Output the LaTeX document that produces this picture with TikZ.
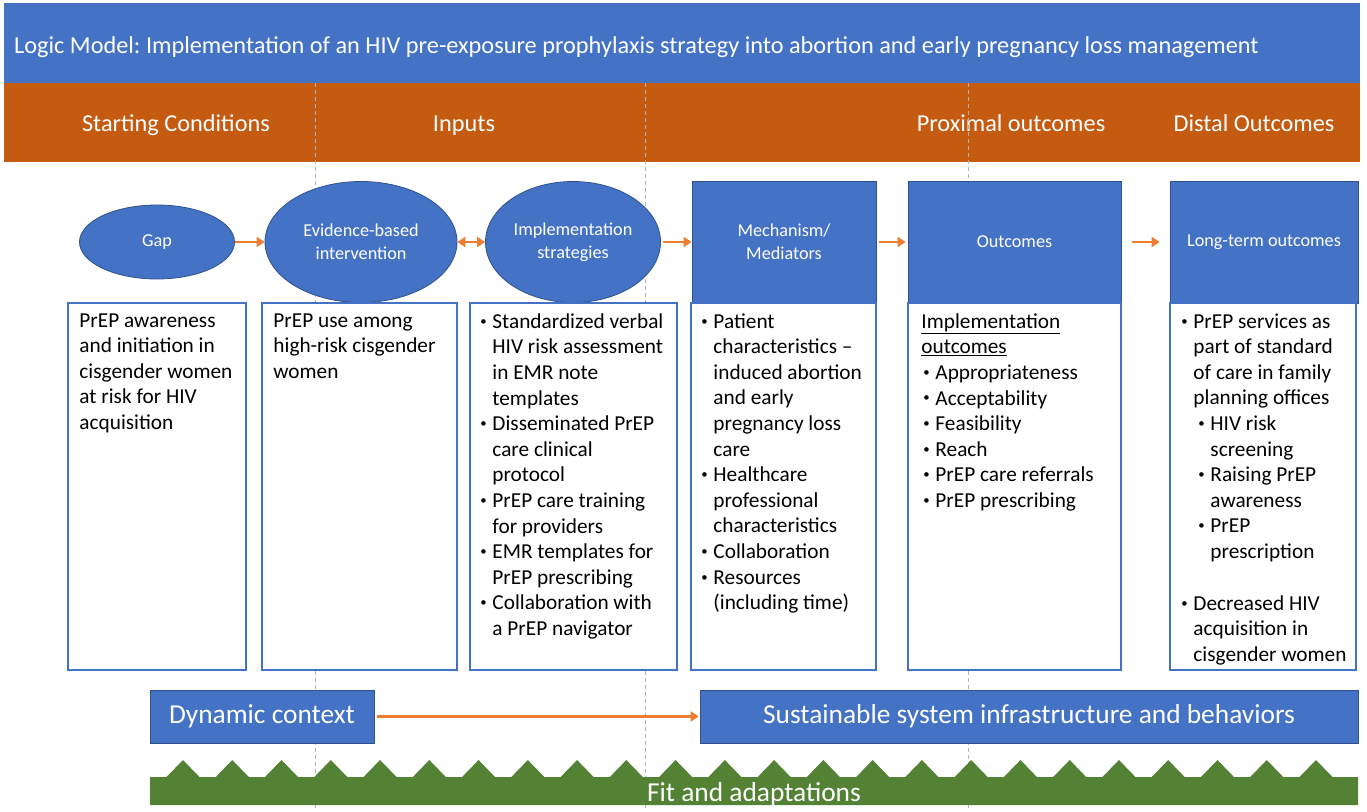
\documentclass[tikz,border=0pt]{standalone}
\usepackage{fontspec}
\setmainfont{Carlito}
\usetikzlibrary{arrows.meta,shapes.geometric}
\definecolor{hdrblue}{HTML}{4472C4}
\definecolor{hdrorange}{HTML}{C55A11}
\definecolor{fitgreen}{HTML}{548235}
\definecolor{arrorange}{HTML}{ED7D31}
\definecolor{edgeblue}{HTML}{2F528F}
\frenchspacing
\newcommand{\bul}[1]{\makebox[12pt][l]{\raisebox{0.3ex}{\scalebox{0.6}{\textbullet}}}#1}
\newcommand{\cnt}[1]{\hspace*{12pt}#1}
\begin{document}
\begin{tikzpicture}[x=1pt,y=-1pt,
  hdr/.style={text=white, inner sep=0, anchor=base, font=\fontsize{24.3}{28}\selectfont},
  oval/.style={ellipse, fill=hdrblue, draw=edgeblue, line width=0.8pt, text=white,
    inner sep=0, align=center, font=\fontsize{18.2}{23}\selectfont},
  bluebox/.style={rectangle, fill=hdrblue, draw=edgeblue, line width=0.8pt, text=white,
    inner sep=0, align=center, font=\fontsize{18.2}{23}\selectfont},
  widebox/.style={rectangle, fill=hdrblue, draw=edgeblue, line width=0.8pt, text=white,
    inner sep=0, font=\fontsize{27.4}{30}\selectfont},
  txtbox/.style={rectangle, draw=hdrblue, line width=1.5pt, fill=white, inner sep=0},
  body/.style={inner sep=0, anchor=north west, align=left,
    font=\fontsize{21.3}{25.6}\selectfont},
  flow/.style={draw=arrorange, line width=2.6pt, -{Triangle[length=8pt,width=10pt]}},
  flow2/.style={draw=arrorange, line width=2.6pt, {Triangle[length=8pt,width=10pt]}-{Triangle[length=8pt,width=10pt]}},
  guide/.style={draw=gray!60, line width=0.7pt, dash pattern=on 4pt off 3pt}]
\useasboundingbox (0,0) rectangle (1367,811);

% title and column header bands
\fill[hdrblue] (4,3) rectangle (1360,83);
\fill[hdrorange] (4,83) rectangle (1360,162);
\node[hdr, anchor=base west] (title) at (14,53)
  {Logic Model: Implementation of an HIV pre-exposure prophylaxis strategy into abortion and early pregnancy loss management};
\node[hdr] (hsc) at (176,131) {Starting Conditions};
\node[hdr] (hin) at (464,131) {Inputs};
\node[hdr] (hpo) at (1011,131) {Proximal outcomes};
\node[hdr] (hdo) at (1254,131) {Distal Outcomes};

% dashed column guides
\coordinate (g1t) at (315,83);  \coordinate (g1b) at (315,811);
\coordinate (g2t) at (645,83);  \coordinate (g2b) at (645,811);
\coordinate (g3t) at (968,83);  \coordinate (g3b) at (968,811);
\draw[guide] (g1t) -- (g1b);
\draw[guide] (g2t) -- (g2b);
\draw[guide] (g3t) -- (g3b);

% top row of shapes
\node[oval, minimum width=155, minimum height=74] (gap) at (157,242) {Gap};
\node[oval, minimum width=192, minimum height=121] (ebi) at (361,242) {Evidence-based\\intervention};
\node[oval, minimum width=175, minimum height=121] (imp) at (573,242) {Implementation\\strategies};
\node[bluebox, minimum width=184, minimum height=122] (mech) at (784,242) {Mechanism/\\Mediators};
\node[bluebox, minimum width=213, minimum height=122] (outc) at (1014.5,242) {Outcomes};
\node[bluebox, minimum width=188, minimum height=122] (lto) at (1264,242) {Long-term outcomes};

\draw[flow] (gap) -- (ebi);
\draw[flow2] (ebi) -- (imp);
\draw[flow, shorten <=2pt] (imp) -- (mech);
\draw[flow, shorten <=3pt, shorten >=2pt] (mech) -- (outc);
\draw[flow, shorten <=11pt, shorten >=10pt] (outc) -- (lto);

% detail boxes
\node[txtbox, minimum width=178, minimum height=367] (b1) at (157,486.5) {};
\node[txtbox, minimum width=195, minimum height=367] (b2) at (359.5,486.5) {};
\node[txtbox, minimum width=207, minimum height=367] (b3) at (573.5,486.5) {};
\node[txtbox, minimum width=185, minimum height=367] (b4) at (783.5,486.5) {};
\node[txtbox, minimum width=213, minimum height=367] (b5) at (1014.5,486.5) {};
\node[txtbox, minimum width=186, minimum height=367] (b6) at (1263,486.5) {};

\node[body] (t1) at ([shift={(12,11)}]b1.north west)
  {PrEP awareness\\and initiation in\\cisgender women\\at risk for HIV\\acquisition};
\node[body] (t2) at ([shift={(12,11)}]b2.north west)
  {PrEP use among\\high-risk cisgender\\women};
\node[body] (t3) at ([shift={(11,11)}]b3.north west)
  {\bul{Standardized verbal}\\\cnt{HIV risk assessment}\\\cnt{in EMR note}\\\cnt{templates}\\
   \bul{Disseminated PrEP}\\\cnt{care clinical}\\\cnt{protocol}\\
   \bul{PrEP care training}\\\cnt{for providers}\\
   \bul{EMR templates for}\\\cnt{PrEP prescribing}\\
   \bul{Collaboration with}\\\cnt{a PrEP navigator}};
\node[body] (t4) at ([shift={(11,11)}]b4.north west)
  {\bul{Patient}\\\cnt{characteristics –}\\\cnt{induced abortion}\\\cnt{and early}\\\cnt{pregnancy loss}\\\cnt{care}\\
   \bul{Healthcare}\\\cnt{professional}\\\cnt{characteristics}\\
   \bul{Collaboration}\\
   \bul{Resources}\\\cnt{(including time)}};
\node[body] (t5) at ([shift={(14,11)}]b5.north west)
  {\underline{Implementation}\\\underline{outcomes}\\
   \hspace*{2pt}\bul{Appropriateness}\\\hspace*{2pt}\bul{Acceptability}\\\hspace*{2pt}\bul{Feasibility}\\
   \hspace*{2pt}\bul{Reach}\\\hspace*{2pt}\bul{PrEP care referrals}\\\hspace*{2pt}\bul{PrEP prescribing}};
\node[body] (t6) at ([shift={(12,11)}]b6.north west)
  {\bul{PrEP services as}\\\cnt{part of standard}\\\cnt{of care in family}\\\cnt{planning offices}\\
   \hspace*{17pt}\bul{HIV risk}\\\hspace*{17pt}\cnt{screening}\\
   \hspace*{17pt}\bul{Raising PrEP}\\\hspace*{17pt}\cnt{awareness}\\
   \hspace*{17pt}\bul{PrEP}\\\hspace*{17pt}\cnt{prescription}\\[26pt]
   \bul{Decreased HIV}\\\cnt{acquisition in}\\\cnt{cisgender women}};

% context row
\node[widebox, minimum width=224, minimum height=53] (dyn) at (262,716.5) {Dynamic context};
\node[widebox, minimum width=658, minimum height=53] (sus) at (1029,716.5) {Sustainable system infrastructure and behaviors};
\draw[flow, line width=2.4pt, shorten <=3pt, shorten >=1pt] (dyn) -- (sus);

% fit and adaptations bar with saw-tooth top
\fill[fitgreen] (150,805) -- (150,777)
  \foreach \k in {0,...,23} { -- ({183+49.26*\k-16.5},777) -- ({183+49.26*\k},760) -- ({183+49.26*\k+16.5},777) }
  -- (1358,777) -- (1358,805) -- cycle;
\node[text=white, inner sep=0, anchor=base, font=\fontsize{27.4}{30}\selectfont] (fit) at (754,801) {Fit and adaptations};
\end{tikzpicture}
\end{document}
